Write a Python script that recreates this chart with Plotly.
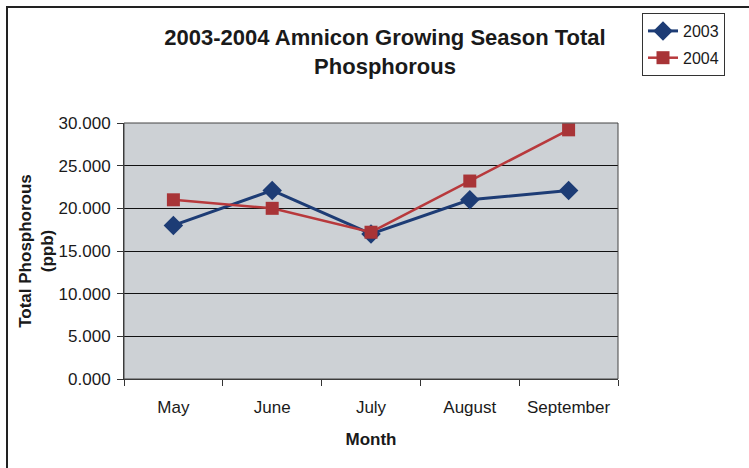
import plotly.graph_objects as go

months = ["May", "June", "July", "August", "September"]
tp_2003 = [18.0, 22.1, 17.0, 21.0, 22.1]
tp_2004 = [21.0, 20.0, 17.2, 23.2, 29.2]
y_ticks = [0, 5, 10, 15, 20, 25, 30]

navy = "#1d3c75"
red = "#b8393c"
font_family = "Liberation Sans, Arial, sans-serif"

fig = go.Figure()
fig.add_trace(go.Scatter(
    x=months, y=tp_2003, name="2003", mode="lines+markers", legendgroup="a",
    line=dict(color=navy, width=3),
    marker=dict(symbol="diamond", size=15, color=navy),
))
fig.add_trace(go.Scatter(
    x=months, y=tp_2004, name="2004", mode="lines+markers", legendgroup="b",
    line=dict(color=red, width=2.5),
    marker=dict(symbol="square", size=13, color="#a83437"),
))

# plot area in pixels: x 124..618, y 123..379
L, R, T, B = 124, 131, 123, 89
W, H = 749 - L - R, 468 - T - B

def px(x):
    return (x - L) / W

def py(y):
    return (468 - B - y) / H

fig.update_layout(
    width=749, height=468,
    margin=dict(l=L, r=R, t=T, b=B),
    paper_bgcolor="white",
    plot_bgcolor="#cdd1d5",
    font=dict(family=font_family, color="#1a1a1a"),
    title=dict(
        text="<b>2003-2004 Amnicon Growing Season Total<br>Phosphorous</b>",
        xref="container", x=385 / 749, xanchor="center",
        y=1 - 45 / 468, yanchor="middle",
        font=dict(size=22, family=font_family, color="#1a1a1a"),
    ),
    showlegend=True,
    legend=dict(
        x=px(642), y=py(13), xanchor="left", yanchor="top",
        bordercolor="#333333", borderwidth=1, bgcolor="white",
        font=dict(size=16, family=font_family, color="#1a1a1a"),
        itemwidth=30, tracegroupgap=3,
    ),
    xaxis=dict(
        type="category", range=[-0.5, 4.5],
        tickson="boundaries", ticks="outside", ticklen=6, tickcolor="#333",
        ticklabelstandoff=13,
        showline=True, linecolor="#333", linewidth=1, mirror=False,
        showgrid=False,
        tickfont=dict(size=17, family=font_family),
        title=dict(text="<b>Month</b>", font=dict(size=17, family=font_family), standoff=16),
    ),
    yaxis=dict(
        range=[0, 30], tickvals=y_ticks, tickformat=".3f",
        ticks="outside", ticklen=6, tickcolor="#333",
        ticklabelstandoff=3,
        showline=True, linecolor="#333", linewidth=1,
        showgrid=True, gridcolor="#111111", gridwidth=1,
        zeroline=False,
        tickfont=dict(size=17, family=font_family),
        title=dict(text="<b>Total Phosphorous<br>(ppb)</b>", font=dict(size=17, family=font_family), standoff=0),
    ),
    shapes=[
        # outer chart frame
        dict(type="rect", xref="paper", yref="paper",
             x0=px(7), x1=px(753), y0=py(472), y1=py(7),
             line=dict(color="#222222", width=2), fillcolor="rgba(0,0,0,0)", layer="below"),
        # plot-area outline
        dict(type="rect", xref="paper", yref="paper", x0=0, x1=1, y0=0, y1=1,
             line=dict(color="#444444", width=1), fillcolor="rgba(0,0,0,0)"),
    ],
)

fig.write_html("out.html")
